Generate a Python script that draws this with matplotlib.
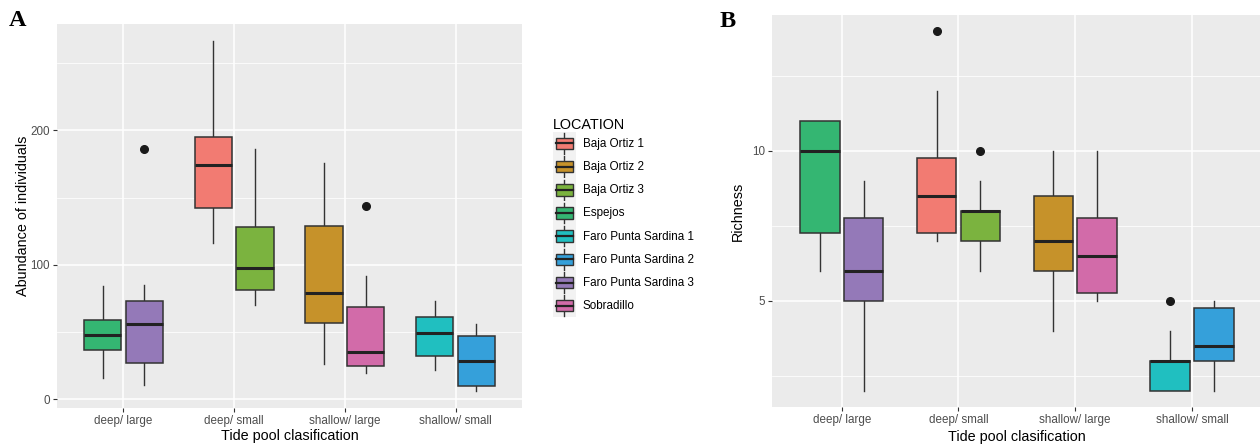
import matplotlib
matplotlib.use("Agg")
import matplotlib.pyplot as plt
from matplotlib.legend_handler import HandlerBase
from matplotlib.patches import Rectangle, Patch
from matplotlib.lines import Line2D
from matplotlib.ticker import FixedLocator

# categorias del eje x y localidades
categories = ["deep/ large", "deep/ small", "shallow/ large", "shallow/ small"]
locations = ["Baja Ortiz 1", "Baja Ortiz 2", "Baja Ortiz 3", "Espejos",
             "Faro Punta Sardina 1", "Faro Punta Sardina 2", "Faro Punta Sardina 3", "Sobradillo"]
location_pool = ["deep/ small", "shallow/ large", "deep/ small", "deep/ large",
                 "shallow/ small", "shallow/ small", "deep/ large", "shallow/ large"]
colors = ["#F27B72", "#C6922A", "#7BB33F", "#34B672", "#20BFC0", "#35A0DA", "#9479B8", "#D26BA9"]

# A: abundancia (bigote bajo, Q1, mediana, Q3, bigote alto, atipicos)
abund_lo = [116, 26, 70, 16, 22, 6.5, 11, 20]
abund_q1 = [142, 57, 81.5, 37, 32.5, 10, 27, 25]
abund_med = [174, 79, 98, 48, 49, 28.5, 56, 35]
abund_q3 = [195, 129, 128, 59, 61, 47, 73, 69]
abund_hi = [266, 176, 186, 84, 73, 56, 85, 92]
abund_out = [[], [], [], [], [], [], [186], [144]]

# B: riqueza
rich_lo = [7, 4, 6, 6, 2, 2, 2, 5]
rich_q1 = [7.25, 6, 7, 7.25, 2, 3, 5, 5.25]
rich_med = [8.5, 7, 8, 10, 3, 3.5, 6, 6.5]
rich_q3 = [9.75, 8.5, 8, 11, 3, 4.75, 7.75, 7.75]
rich_hi = [12, 10, 9, 11, 4, 5, 9, 10]
rich_out = [[14], [], [10], [], [5], [], [], []]

EDGE = "#333333"
W, H = 1260, 444
fig = plt.figure(figsize=(W / 100, H / 100), dpi=100)
plt.rcParams['font.family'] = ['Liberation Sans', 'DejaVu Sans']


def box_panel(rect, lo, q1, med, q3, hi, out, ylim, major, minor, ylabel, ylab_x):
    ax = fig.add_axes(rect)
    ax.set_facecolor("#EBEBEB")
    stats, pos = [], []
    for i, loc in enumerate(locations):
        c = categories.index(location_pool[i])
        same = [j for j in range(len(locations)) if location_pool[j] == location_pool[i]]
        off = -0.1875 if same.index(i) == 0 else 0.1875
        pos.append(c + 1 + off)
        stats.append(dict(whislo=lo[i], q1=q1[i], med=med[i], q3=q3[i], whishi=hi[i], fliers=out[i]))
    bp = ax.bxp(stats, positions=pos, widths=0.3375, patch_artist=True, showcaps=False,
                boxprops=dict(edgecolor=EDGE, linewidth=1.1),
                medianprops=dict(color="#222222", linewidth=2.2, solid_capstyle="butt"),
                whiskerprops=dict(color=EDGE, linewidth=1.0),
                flierprops=dict(marker="o", markerfacecolor="#1A1A1A", markeredgecolor="#1A1A1A",
                                markersize=5.5))
    for patch, col in zip(bp["boxes"], colors):
        patch.set_facecolor(col)
        patch.set_zorder(3)
    for k in ("medians", "whiskers", "fliers"):
        for a in bp[k]:
            a.set_zorder(4 if k == "medians" else 2)
    ax.set_xlim(0.4, 4.6)
    ax.set_ylim(*ylim)
    ax.set_xticks(range(1, 5))
    ax.set_xticklabels(categories)
    ax.set_yticks(major)
    ax.yaxis.set_minor_locator(FixedLocator(minor))
    ax.xaxis.set_minor_locator(FixedLocator([]))
    ax.grid(which="major", color="white", linewidth=1.1)
    ax.grid(which="minor", axis="y", color="white", linewidth=0.55)
    ax.set_axisbelow(True)
    for s in ax.spines.values():
        s.set_visible(False)
    ax.tick_params(which="major", length=3, color=EDGE, labelsize=8.4, labelcolor="#4D4D4D", pad=2)
    ax.tick_params(which="minor", length=0)
    ax.set_xlabel("Tide pool clasification", fontsize=10.4, color="black")
    ax.set_ylabel(ylabel, fontsize=10.4, color="black", va="center")
    ax.yaxis.set_label_coords(ylab_x, 0.5)
    return ax


axA = box_panel([57 / W, (H - 408.3) / H, 465 / W, 384.3 / H],
                abund_lo, abund_q1, abund_med, abund_q3, abund_hi, abund_out,
                (-6.6, 279), [0, 100, 200], [50, 150, 250], "Abundance of individuals", -0.074)
axA.xaxis.set_label_coords(0.5, -0.072)
axA.xaxis.label.set_va("center")

axB = box_panel([771.7 / W, (H - 407.3) / H, 490.3 / W, 392.6 / H],
                rich_lo, rich_q1, rich_med, rich_q3, rich_hi, rich_out,
                (1.44, 14.55), [5, 10], [2.5, 7.5, 12.5], "Richness", -0.069)
axB.xaxis.set_label_coords(0.5, -0.075)
axB.xaxis.label.set_va("center")

fig.text(9 / W, 1 - 26 / H, "A", family="Liberation Serif", weight="bold", fontsize=17.5, va="baseline")
fig.text(720 / W, 1 - 26.7 / H, "B", family="Liberation Serif", weight="bold", fontsize=17.5, va="baseline")


# clave de leyenda con forma de caja, como en ggplot
class BoxKey(HandlerBase):
    def create_artists(self, legend, orig_handle, xdescent, ydescent, width, height, fontsize, trans):
        x0, y0 = -xdescent, -ydescent
        bg = Rectangle((x0, y0), width, height, facecolor="#F2F2F2", edgecolor="none", transform=trans)
        cx = x0 + width / 2
        wh = Line2D([cx, cx], [y0 + height * 0.06, y0 + height * 0.94], color=EDGE, lw=1.0, transform=trans)
        bx = Rectangle((x0 + width * 0.12, y0 + height * 0.25), width * 0.76, height * 0.5,
                       facecolor=orig_handle.get_facecolor(), edgecolor=EDGE, lw=1.0, transform=trans)
        md = Line2D([x0 + width * 0.12, x0 + width * 0.88], [y0 + height / 2] * 2, color="#222222",
                    lw=1.6, transform=trans)
        return [bg, wh, bx, md]


handles = [Patch(facecolor=c) for c in colors]
leg = fig.legend(handles, locations, loc="upper left", bbox_to_anchor=(547 / W, 1 - 112 / H),
                 frameon=False, borderpad=0, fontsize=8.4, title="LOCATION", title_fontsize=10.4,
                 handlelength=1.97, handleheight=2.68, labelspacing=0, handletextpad=0.6,
                 alignment="left", handler_map={Patch: BoxKey()})

fig.savefig("out.png", dpi=100)
